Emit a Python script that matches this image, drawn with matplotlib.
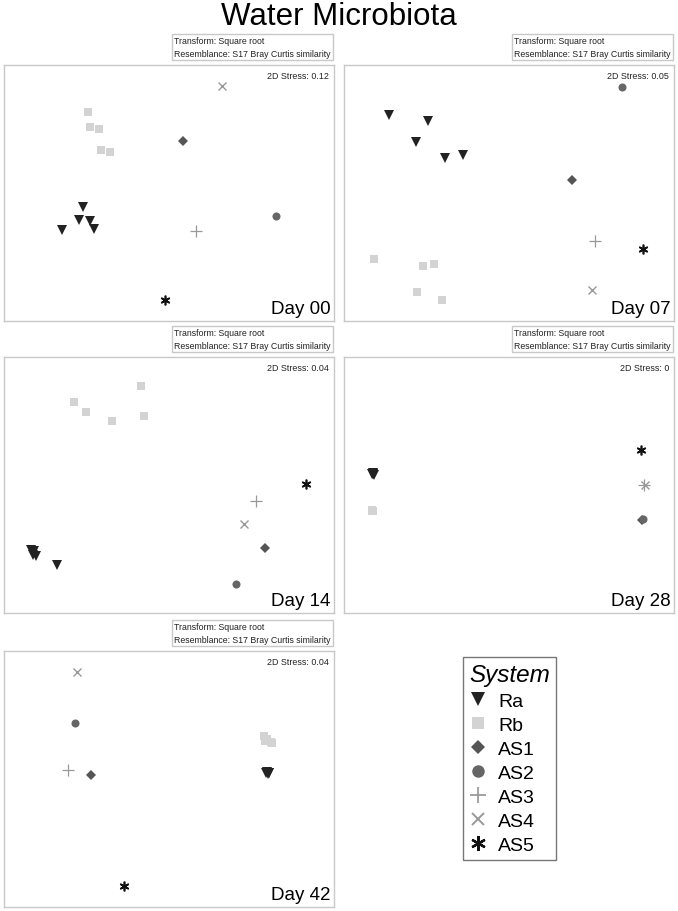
import matplotlib.pyplot as plt
from matplotlib.lines import Line2D

plt.rcParams['font.family'] = ['Liberation Sans', 'DejaVu Sans']

groups = ['Ra', 'Rb', 'AS1', 'AS2', 'AS3', 'AS4', 'AS5']
days = ['Day 00', 'Day 07', 'Day 14', 'Day 28', 'Day 42']
stress = ['0.12', '0.05', '0.04', '0', '0.04']

# nMDS coordinates (x, y per group)
d00 = {
    'Ra': ([0.239, 0.226, 0.262, 0.175, 0.273], [0.447, 0.395, 0.390, 0.355, 0.359]),
    'Rb': ([0.255, 0.260, 0.288, 0.295, 0.322], [0.818, 0.756, 0.749, 0.667, 0.659]),
    'AS1': ([0.543], [0.705]),
    'AS2': ([0.825], [0.412]),
    'AS3': ([0.583], [0.351]),
    'AS4': ([0.660], [0.917]),
    'AS5': ([0.487], [0.081]),
}
d07 = {
    'Ra': ([0.135, 0.254, 0.218, 0.306, 0.360], [0.806, 0.782, 0.701, 0.638, 0.649]),
    'Rb': ([0.092, 0.239, 0.274, 0.222, 0.298], [0.243, 0.215, 0.221, 0.114, 0.083]),
    'AS1': ([0.691], [0.551]),
    'AS2': ([0.842], [0.915]),
    'AS3': ([0.761], [0.313]),
    'AS4': ([0.752], [0.122]),
    'AS5': ([0.905], [0.282]),
}
d14 = {
    'Ra': ([0.083, 0.091, 0.098, 0.088, 0.161], [0.245, 0.243, 0.221, 0.228, 0.186]),
    'Rb': ([0.416, 0.212, 0.247, 0.326, 0.424], [0.887, 0.826, 0.785, 0.749, 0.768]),
    'AS1': ([0.792], [0.255]),
    'AS2': ([0.704], [0.112]),
    'AS3': ([0.763], [0.436]),
    'AS4': ([0.726], [0.349]),
    'AS5': ([0.916], [0.505]),
}
d28 = {
    'Ra': ([0.086, 0.088, 0.090, 0.087, 0.089], [0.543, 0.545, 0.541, 0.542, 0.544]),
    'Rb': ([0.085, 0.086, 0.087, 0.086, 0.085], [0.401, 0.403, 0.399, 0.400, 0.402]),
    'AS1': ([0.903], [0.365]),
    'AS2': ([0.907], [0.366]),
    'AS3': ([0.910], [0.499]),
    'AS4': ([0.912], [0.499]),
    'AS5': ([0.901], [0.635]),
}
d42 = {
    'Ra': ([0.796, 0.802, 0.799, 0.795, 0.804], [0.526, 0.522, 0.518, 0.523, 0.525]),
    'Rb': ([0.787, 0.797, 0.810, 0.792, 0.813], [0.667, 0.656, 0.643, 0.650, 0.639]),
    'AS1': ([0.264], [0.516]),
    'AS2': ([0.214], [0.720]),
    'AS3': ([0.193], [0.536]),
    'AS4': ([0.221], [0.918]),
    'AS5': ([0.364], [0.081]),
}
all_days = [d00, d07, d14, d28, d42]

style = {
    'Ra': dict(marker='v', color='#222222', ms=7, mew=0),
    'Rb': dict(marker='s', color='#d3d3d3', ms=5.5, mew=0),
    'AS1': dict(marker='D', color='#555555', ms=5, mew=0),
    'AS2': dict(marker='o', color='#666666', ms=5.8, mew=0),
    'AS3': dict(marker='+', color='#999999', ms=8, mew=0.9),
    'AS4': dict(marker='x', color='#999999', ms=5.5, mew=1.0),
    'AS5': dict(marker=(6, 2, 0), color='#111111', ms=7, mew=1.2),
}
# bigger symbols in the legend
leg_ms = {'Ra': 10, 'Rb': 9, 'AS1': 7.5, 'AS2': 9, 'AS3': 11, 'AS4': 8.5, 'AS5': 10.5}

W, H = 678, 912
fig = plt.figure(figsize=(W / 100, H / 100), dpi=100)
fig.text(0.5, 1 - 17 / H, 'Water Microbiota', ha='center', va='center', fontsize=22.5)

# panel boxes in pixels: left, top
boxes = [(4, 66), (344, 66), (4, 358), (344, 358), (4, 652)]
pw, ph = 330, 256
edge = '#c8c8c8'

for (px, py), name, st, dd in zip(boxes, days, stress, all_days):
    ax = fig.add_axes([px / W, 1 - (py + ph) / H, pw / W, ph / H])
    for g in groups:
        xs, ys = dd[g]
        ax.plot(xs, ys, linestyle='none', **style[g])
    ax.set_xlim(0, 1)
    ax.set_ylim(0, 1)
    ax.set_xticks([])
    ax.set_yticks([])
    for s in ax.spines.values():
        s.set_color(edge)
        s.set_linewidth(1)
    ax.text(0.985, 0.975, '2D Stress: ' + st, transform=ax.transAxes,
            ha='right', va='top', fontsize=6.4, color='#222222')
    ax.text(0.99, 0.015, name, transform=ax.transAxes,
            ha='right', va='bottom', fontsize=13.5)
    # transform / resemblance box above panel
    fig.text((px + pw - 3) / W, 1 - (py - 18) / H,
             'Transform: Square root\nResemblance: S17 Bray Curtis similarity',
             ha='right', va='center', multialignment='left', fontsize=6.3,
             color='#222222', linespacing=1.45,
             bbox=dict(boxstyle='square,pad=0.25', fc='white', ec=edge, lw=1))

handles = []
for g in groups:
    kw = dict(style[g])
    kw['ms'] = leg_ms[g]
    if g in ('AS3', 'AS4', 'AS5'):
        kw['mew'] = kw['mew'] * 1.4
    handles.append(Line2D([], [], linestyle='none', label=g, **kw))
leg = fig.legend(handles=handles, title='System', loc='upper left',
                 bbox_to_anchor=(463 / W, 1 - 658 / H), fontsize=14,
                 title_fontproperties={'size': 17.5, 'style': 'italic'},
                 handlelength=0.9, handletextpad=0.6,
                 labelspacing=0.33, borderpad=0.3, borderaxespad=0,
                 frameon=True, fancybox=False,
                 edgecolor='#555555', alignment='left')
leg.get_frame().set_linewidth(1)

fig.savefig('out.png', dpi=100)
